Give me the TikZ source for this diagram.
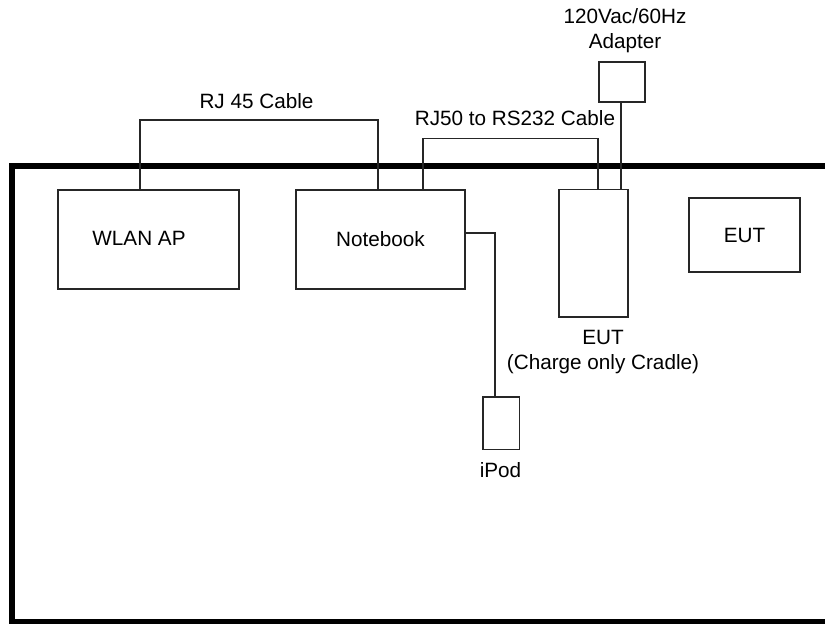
\documentclass[tikz,border=0pt]{standalone}
\usepackage{fontspec}
\setmainfont{Liberation Sans}
\begin{document}
\begin{tikzpicture}[x=1pt,y=-1pt,
  box/.style={draw=black!85, line width=1.6pt, inner sep=0pt, font=\fontsize{20.7}{25}\selectfont},
  wire/.style={draw=black!85, line width=1.6pt},
  lbl/.style={inner sep=0pt, font=\fontsize{20.7}{25}\selectfont, align=center},
  frame/.style={draw=black, line width=5.5pt}]
\clip (0,0) rectangle (825,624);
\fill[white] (0,0) rectangle (825,624);
% table frame
\coordinate (ftr) at (830,166);
\coordinate (ftl) at (12,166);
\coordinate (fbl) at (12,622);
\coordinate (fbr) at (830,622);
\draw[frame] (ftr) -- (ftl) -- (fbl) -- (fbr);
% boxes
\node[box, minimum width=181pt, minimum height=99pt] (wlan) at (148.5,239.5) {};
\node[lbl] (wlant) at (139,238) {WLAN AP};
\node[box, minimum width=169pt, minimum height=99pt] (nb) at (380.5,239.5) {Notebook};
\node[box, minimum width=69pt, minimum height=127.5pt] (cradle) at (593.5,253.2) {};
\node[box, minimum width=46pt, minimum height=39.5pt] (adapter) at (622,82) {};
\node[box, minimum width=111pt, minimum height=74pt] (eut) at (744.5,235) {EUT};
\node[box, minimum width=36.6pt, minimum height=52.6pt] (ipod) at (501,423) {};
% labels
\node[lbl, anchor=base] (rj45l) at (256.5,108) {RJ 45 Cable};
\node[lbl, anchor=base] (rj50l) at (515,125) {RJ50 to RS232 Cable};
\node[lbl, anchor=north] (adl) at (625,8) {120Vac/60Hz\\Adapter};
\node[lbl, anchor=north] (cradlel) at (603,330.2) {EUT\\(Charge only Cradle)};
\node[lbl, anchor=base] (ipodl) at (500.5,477) {iPod};
% connectors
\coordinate (rjA) at (140,120);
\coordinate (rjB) at (378,120);
\draw[wire] (rjA |- wlan.north) -- (rjA) -- (rjB) -- (rjB |- nb.north);
\coordinate (rsA) at (422.7,138.3);
\coordinate (rsB) at (597.7,138.3);
\draw[wire] (rsA |- nb.north) -- (rsA) -- (rsB) -- (rsB |- cradle.north);
\coordinate (adA) at (621,0);
\draw[wire] (adA |- adapter.south) -- (adA |- cradle.north);
\coordinate (ipA) at (495,232.7);
\draw[wire] (ipA -| nb.east) -- (ipA) -- (ipA |- ipod.north);
\end{tikzpicture}
\end{document}
